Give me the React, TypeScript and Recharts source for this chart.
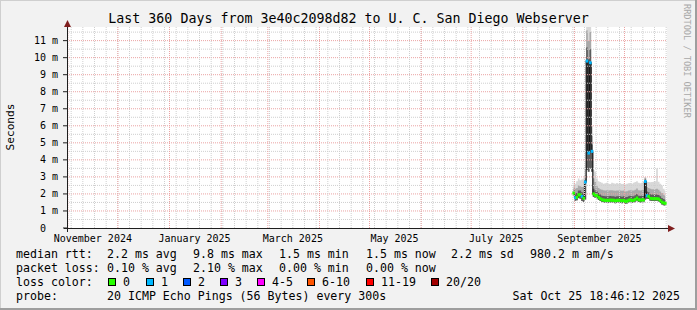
import {
  ComposedChart,
  Area,
  Line,
  Scatter,
  XAxis,
  YAxis,
  ReferenceLine,
} from "recharts";

const DAY = 86400000;
const viewStart = Date.UTC(2024, 9, 31, 12);
const viewEnd = viewStart + 360 * DAY;
const firstSample = Date.UTC(2025, 7, 31, 12);

const title = "Last 360 Days from 3e40c2098d82 to U. C. San Diego Webserver";

// x axis labels (placed mid month like rrdtool does)
const labelDates = ["2024-11-16", "2025-01-16", "2025-03-16", "2025-05-16", "2025-07-16", "2025-09-16"];
const monthLabels = ["November 2024", "January 2025", "March 2025", "May 2025", "July 2025", "September 2025"];
const monthStarts = [
  "2024-11-01", "2024-12-01", "2025-01-01", "2025-02-01", "2025-03-01", "2025-04-01",
  "2025-05-01", "2025-06-01", "2025-07-01", "2025-08-01", "2025-09-01", "2025-10-01",
];
const firstSunday = "2024-11-03";

const yTicks = [0, 1, 2, 3, 4, 5, 6, 7, 8, 9, 10, 11];

// one value per day, in ms
const rttMedian = [
  2.05, 1.78, 1.8, 1.95, 1.95, 1.85, 1.75, 2.7,
  9.8, 4.4, 9.7, 4.5, 2.0, 1.92, 1.9, 1.8,
  1.72, 1.66, 1.64, 1.62, 1.63, 1.62, 1.64, 1.63,
  1.63, 1.6, 1.62, 1.63, 1.62, 1.6, 1.62, 1.57,
  1.58, 1.63, 1.65, 1.62, 1.63, 1.68, 1.76, 1.66,
  1.64, 1.65, 1.65, 2.73, 1.9, 1.85, 1.74, 1.72,
  1.72, 1.72, 1.72, 1.7, 1.62, 1.52, 1.47, 1.45,
];
const lossCount = [
  0, 1, 0, 0, 0, 1, 0, 1,
  1, 1, 1, 1, 0, 0, 0, 0,
  0, 0, 0, 0, 0, 0, 0, 0,
  0, 0, 0, 0, 0, 0, 0, 0,
  0, 0, 0, 0, 0, 0, 0, 0,
  0, 0, 0, 1, 1, 0, 0, 0,
  0, 0, 0, 0, 0, 0, 0, 0,
];
// smoke: lowest ping, top of dark band, top of medium band, highest ping
const smokeLow = [
  1.88, 1.6, 1.63, 1.78, 1.72, 1.58, 1.52, 1.68,
  3.4, 3.3, 3.5, 3.3, 1.82, 1.76, 1.74, 1.65,
  1.58, 1.52, 1.5, 1.48, 1.49, 1.48, 1.5, 1.49,
  1.49, 1.46, 1.48, 1.49, 1.48, 1.46, 1.48, 1.43,
  1.44, 1.49, 1.51, 1.48, 1.49, 1.54, 1.62, 1.52,
  1.5, 1.51, 1.51, 1.68, 1.72, 1.7, 1.6, 1.58,
  1.58, 1.58, 1.58, 1.56, 1.48, 1.38, 1.33, 1.31,
];
const smokeDark = [
  2.3, 2.05, 2.05, 2.2, 2.2, 2.1, 2.0, 2.85,
  10.6, 9.9, 10.5, 4.9, 2.3, 2.2, 2.15, 2.05,
  1.97, 1.9, 1.88, 1.86, 1.87, 1.86, 1.88, 1.87,
  1.87, 1.84, 1.86, 1.87, 1.86, 1.84, 1.86, 1.81,
  1.82, 1.87, 1.89, 1.86, 1.87, 1.92, 2.0, 1.9,
  1.88, 1.89, 1.89, 2.85, 2.15, 2.1, 1.98, 1.96,
  1.96, 1.96, 1.96, 1.94, 1.86, 1.76, 1.7, 1.66,
];
const smokeMid = [
  2.45, 2.3, 2.35, 2.5, 2.45, 2.4, 2.4, 3.1,
  11.6, 11.0, 11.5, 5.4, 2.9, 2.7, 2.45, 2.35,
  2.28, 2.25, 2.22, 2.2, 2.22, 2.2, 2.22, 2.22,
  2.2, 2.18, 2.2, 2.2, 2.2, 2.18, 2.2, 2.15,
  2.16, 2.2, 2.22, 2.2, 2.2, 2.25, 2.32, 2.22,
  2.2, 2.22, 2.22, 2.95, 2.4, 2.35, 2.3, 2.28,
  2.28, 2.28, 2.3, 2.25, 2.15, 2.05, 1.95, 1.9,
];
const smokeHigh = [
  2.7, 2.6, 2.75, 2.9, 2.8, 2.85, 2.9, 3.6,
  13, 13, 13, 6.0, 3.4, 3.3, 2.9, 2.75,
  2.7, 2.65, 2.6, 2.62, 2.65, 2.6, 2.58, 2.66,
  2.62, 2.6, 2.64, 2.6, 2.62, 2.58, 2.6, 2.55,
  2.6, 2.62, 2.64, 2.6, 2.66, 2.7, 2.75, 2.65,
  2.62, 2.66, 2.7, 3.0, 2.72, 2.7, 2.68, 2.7,
  2.72, 2.75, 3.5, 2.72, 2.6, 2.5, 2.3, 2.2,
];

const lossColors = ["#26ff00", "#00b8ff", "#0059ff", "#7e00ff", "#ff00ff", "#ff5500", "#ff0000", "#a10000"];
const lossLabels = ["0", "1", "2", "3", "4-5", "6-10", "11-19", "20/20"];
const lossBoxX = [108, 146, 183, 220, 257, 307, 366, 431];

const rttLegend = ["2.2 ms avg", "9.8 ms max", "1.5 ms min", "1.5 ms now", "2.2 ms sd", "980.2 m am/s"];
const lossLegend = ["0.10 % avg", "2.10 % max", "0.00 % min", "0.00 % now"];
const legendX = [107, 193, 279, 366, 451, 530];

const rows = rttMedian.map((m, i) => ({
  t: firstSample + i * DAY,
  median: m,
  loss: lossCount[i],
  light: [smokeLow[i], smokeHigh[i]],
  mid: [smokeLow[i], smokeMid[i]],
  dark: [smokeLow[i], smokeDark[i]],
}));

const labelTimes = labelDates.map((d) => Date.parse(d));
const monthTimes = monthStarts.map((d) => Date.parse(d));
const weekTimes: number[] = [];
for (let t = Date.parse(firstSunday); t < viewEnd; t += 7 * DAY) weekTimes.push(t);
const halfSteps = yTicks.map((v) => v + 0.5);

const FONT = "DejaVu Sans Mono";
const minorColor = "#cfcfcf";
const majorColor = "#eba3a3";

const XTick = (props: any) => {
  const { x, y, payload } = props;
  const idx = labelTimes.indexOf(payload.value);
  return (
    <text x={x} y={y} dy="0.35em" textAnchor="middle" fontFamily={FONT} fontSize={10} fill="#000">
      {monthLabels[idx]}
    </text>
  );
};

const YTick = (props: any) => {
  const { x, y, payload } = props;
  const label = payload.value === 0 ? "0  " : `${payload.value} m`;
  return (
    <text
      x={x}
      y={y}
      dy="0.35em"
      textAnchor="end"
      fontFamily={FONT}
      fontSize={10}
      fill="#000"
      xmlSpace="preserve"
      style={{ whiteSpace: "pre" }}
    >
      {label}
    </text>
  );
};

const MedianMark = (props: any) => {
  const { cx, cy, payload } = props;
  if (cx == null || cy == null) return <g />;
  return <rect x={cx - 1.3} y={cy - 1.5} width={2.6} height={3} fill={lossColors[payload.loss]} />;
};

const textStyle = { fontFamily: FONT, fontSize: 11.6, fill: "#000" };

const App = () => {
  return (
    <div style={{ position: "absolute", left: 0, top: 0, width: 697, height: 310, background: "#f2f2f2" }}>
      <svg width={697} height={310} style={{ position: "absolute", left: 0, top: 0 }}>
        <rect x={67} y={27} width={600} height={201} fill="#fff" />
      </svg>
      <div style={{ position: "absolute", left: 0, top: 0 }}>
        <ComposedChart width={697} height={310} data={rows} margin={{ top: 27, right: 30, bottom: 52, left: 0 }}>
          <XAxis
            type="number"
            dataKey="t"
            domain={[viewStart, viewEnd]}
            allowDataOverflow
            ticks={labelTimes}
            interval={0}
            tickLine={false}
            axisLine={false}
            tickSize={6}
            tickMargin={4}
            height={30}
            tick={XTick}
          />
          <YAxis
            type="number"
            domain={[0, 11.8]}
            allowDataOverflow
            ticks={yTicks}
            interval={0}
            width={67}
            axisLine={false}
            tickSize={4}
            tickMargin={5}
            tickLine={{ stroke: "#1f1f1f" }}
            tick={YTick}
          />
          <Area dataKey="light" type="step" stroke="none" fill="#d8d8d8" fillOpacity={1} isAnimationActive={false} activeDot={false} />
          <Area dataKey="mid" type="step" stroke="none" fill="#a9a9a9" fillOpacity={1} isAnimationActive={false} activeDot={false} />
          <Area dataKey="dark" type="step" stroke="none" fill="#5c5c5c" fillOpacity={1} isAnimationActive={false} activeDot={false} />
          <Line dataKey="median" type="step" stroke="#151515" strokeWidth={1.2} dot={false} activeDot={false} isAnimationActive={false} />
          <Scatter dataKey="median" shape={MedianMark} isAnimationActive={false} />
          {halfSteps.map((v) => (
            <ReferenceLine key={`hy${v}`} y={v} stroke={minorColor} strokeDasharray="1 1" />
          ))}
          {yTicks.slice(1).map((v) => (
            <ReferenceLine key={`my${v}`} y={v} stroke={majorColor} strokeDasharray="1 1" />
          ))}
          {weekTimes.map((t) => (
            <ReferenceLine key={`w${t}`} x={t} stroke={minorColor} strokeDasharray="1 1" />
          ))}
          {monthTimes.map((t) => (
            <ReferenceLine key={`m${t}`} x={t} stroke={majorColor} strokeDasharray="1 1" />
          ))}
        </ComposedChart>
      </div>
      <svg width={697} height={310} style={{ position: "absolute", left: 0, top: 0, pointerEvents: "none" }}>
        {/* frame */}
        <path d="M0,309 L0,0 L697,0" stroke="#cfcfcf" strokeWidth={2} fill="none" />
        <path d="M696,0 L696,309 L0,309" stroke="#9e9e9e" strokeWidth={2} fill="none" />
        {/* axes + arrows */}
        <line x1={64} y1={228.5} x2={670} y2={228.5} stroke="#1f1f1f" strokeWidth={1} />
        <line x1={67.5} y1={232} x2={67.5} y2={24} stroke="#1f1f1f" strokeWidth={1} />
        <polygon points="668,225 675,228.5 668,232" fill="#801f1f" />
        <polygon points="64,27 67.5,20 71,27" fill="#801f1f" />
        <text x={348.5} y={23} textAnchor="middle" fontFamily={FONT} fontSize={13.3} fill="#000">
          {title}
        </text>
        <text x={14} y={127} transform="rotate(-90 14 127)" textAnchor="middle" fontFamily={FONT} fontSize={11.2} fill="#000">
          Seconds
        </text>
        <text x={683.5} y={4} transform="rotate(90 683.5 4)" fontFamily={FONT} fontSize={8.6} fill="#a8a8a8">
          RRDTOOL / TOBI OETIKER
        </text>
        <text x={16} y={258} {...textStyle}>median rtt:</text>
        {rttLegend.map((s, i) => (
          <text key={s} x={legendX[i]} y={258} {...textStyle}>{s}</text>
        ))}
        <text x={16} y={272} {...textStyle}>packet loss:</text>
        {lossLegend.map((s, i) => (
          <text key={s} x={legendX[i]} y={272} {...textStyle}>{s}</text>
        ))}
        <text x={16} y={286} {...textStyle}>loss color:</text>
        {lossLabels.map((s, i) => (
          <g key={s}>
            <rect x={lossBoxX[i] + 0.5} y={278.5} width={7} height={7} fill={lossColors[i]} stroke="#000" strokeWidth={1} />
            <text x={lossBoxX[i] + 15} y={286} {...textStyle}>{s}</text>
          </g>
        ))}
        <text x={16} y={300} {...textStyle}>probe:</text>
        <text x={107} y={300} {...textStyle}>20 ICMP Echo Pings (56 Bytes) every 300s</text>
        <text x={680} y={300} textAnchor="end" {...textStyle}>Sat Oct 25 18:46:12 2025</text>
      </svg>
    </div>
  );
};

export default App;
